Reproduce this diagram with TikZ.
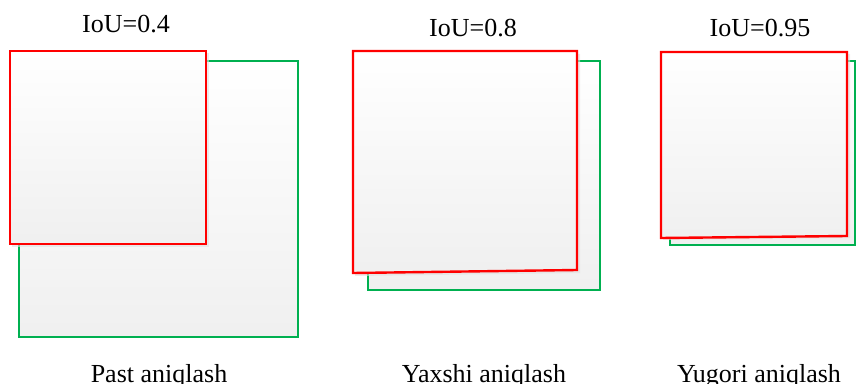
\documentclass[tikz,border=0pt]{standalone}
\usepackage{fontspec}
\setmainfont{Liberation Serif}
\begin{document}
\begin{tikzpicture}[x=1pt,y=1pt,
  gtbox/.style={draw=boxgreen, line width=2.4pt, top color=white, bottom color=black!6, shading angle=0},
  predbox/.style={draw=boxred, line width=2.4pt, top color=white, bottom color=black!6, shading angle=0},
  shad/.style={fill=black!12, draw=none, opacity=0.6},
  lbl/.style={font=\fontsize{26}{30}\selectfont, anchor=base, inner sep=0pt}]
\definecolor{boxgreen}{HTML}{00B050}
\definecolor{boxred}{HTML}{FF0000}
\useasboundingbox (0,0) rectangle (856,383);
% y = 383 - py
% Panel 1
\draw[gtbox] (19,46) rectangle (298,322);
\fill[shad] (12,136) rectangle (209,330);
\draw[predbox] (10,139) rectangle (206,332);
\node[lbl] (t1) at (126,350) {IoU=0.4};
\node[lbl] (b1) at (159,1) {Past aniqlash};
% Panel 2
\draw[gtbox] (368,93) rectangle (600,322);
\fill[shad] (355,107) -- (580,110) -- (580,329) -- (355,329) -- cycle;
\draw[predbox] (353,110) -- (577,113) -- (577,332) -- (353,332) -- cycle;
\node[lbl] (t2) at (473,346) {IoU=0.8};
\node[lbl] (b2) at (484,1) {Yaxshi aniqlash};
% Panel 3
\draw[gtbox] (670,138) rectangle (855,322);
\fill[shad] (663,143) -- (850,145) -- (850,329) -- (663,329) -- cycle;
\draw[predbox] (661,145) -- (847,147) -- (847,331) -- (661,331) -- cycle;
\node[lbl] (t3) at (760,346) {IoU=0.95};
\node[lbl] (b3) at (759,1) {Yugori aniqlash};
\end{tikzpicture}
\end{document}
